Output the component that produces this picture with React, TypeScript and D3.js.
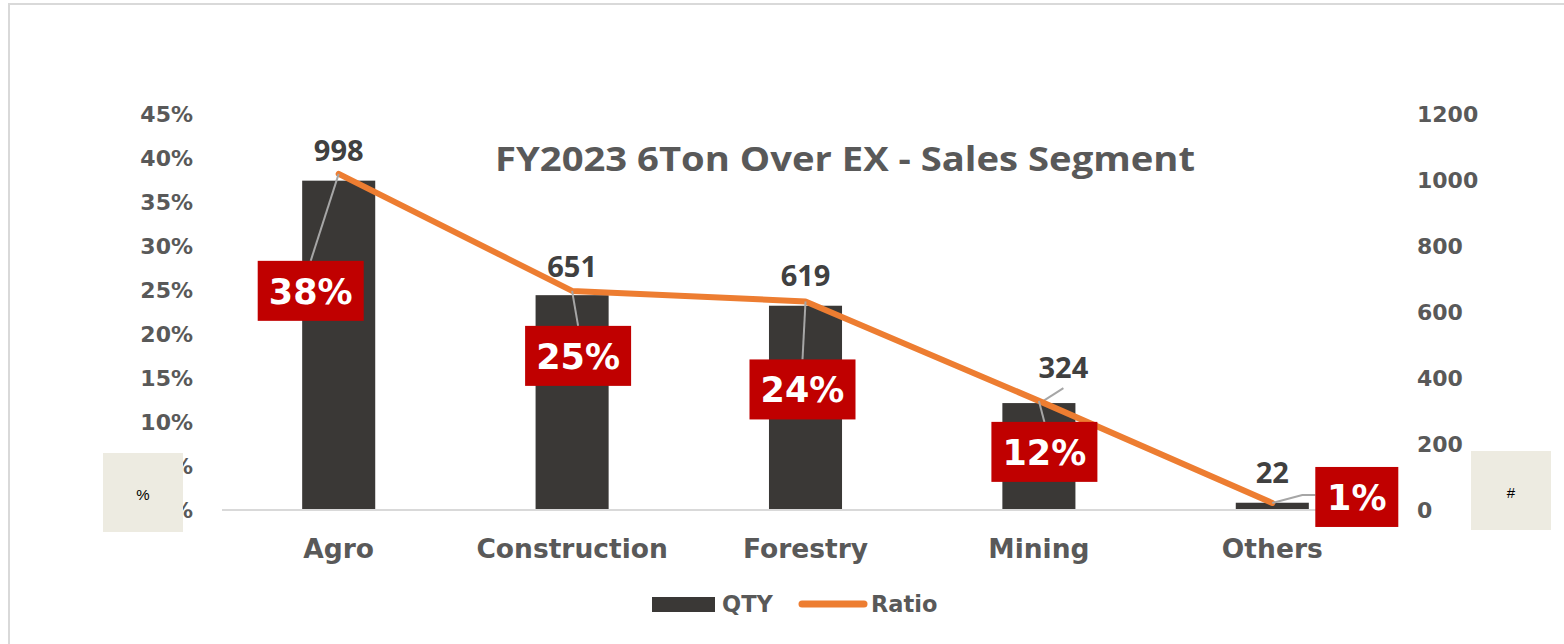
import React from "react";
import * as d3 from "d3";

const categories = ["Agro", "Construction", "Forestry", "Mining", "Others"];
const qty = [998, 651, 619, 324, 22];
const ratio = [0.382, 0.249, 0.237, 0.124, 0.008];
const ratioLabels = ["38%", "25%", "24%", "12%", "1%"];
const leftTicks = [0, 0.05, 0.1, 0.15, 0.2, 0.25, 0.3, 0.35, 0.4, 0.45];
const rightTicks = [0, 200, 400, 600, 800, 1000, 1200];
const title = "FY2023 6Ton Over EX - Sales Segment";

// label placement offsets (style, relative to data point)
const boxOffsets = [
  [-28, 117],
  [6, 65],
  [-3, 88],
  [5.5, 51],
  [84.5, -6],
];
const qtyLabelOffsets = [
  [0, -31],
  [0, -30],
  [0, -31],
  [24.5, -37],
  [0, -31],
];

const W = 1564;
const H = 644;
const AXIS_FONT = "'DejaVu Sans', Verdana, sans-serif";

export default function App() {
  const x = d3
    .scaleBand<string>()
    .domain(categories)
    .range([222, 1389])
    .paddingInner(0.687)
    .paddingOuter(0.3435);
  const yL = d3.scaleLinear().domain([0, 0.45]).range([510, 114]);
  const yR = d3.scaleLinear().domain([0, 1200]).range([510, 114]);
  const bw = x.bandwidth();
  const cx = (c: string) => (x(c) as number) + bw / 2;

  const line = d3
    .line<number>()
    .x((_, i) => cx(categories[i]))
    .y((d) => yL(d));

  const boxH = 60;

  return (
    <svg
      width={W}
      height={H}
      style={{ position: "absolute", left: 0, top: 0, background: "#fff" }}
    >
      <rect x={9} y={4} width={W} height={H} fill="#fff" stroke="#D9D9D9" strokeWidth={2} />

      {/* title */}
      <text
        x={845}
        y={158}
        textAnchor="middle"
        dominantBaseline="central"
        fontFamily="'Open Sans', sans-serif"
        fontWeight={700}
        fontSize={34}
        fill="#595959"
        textLength={700}
        lengthAdjust="spacingAndGlyphs"
      >
        {title}
      </text>

      {/* left axis labels */}
      {leftTicks.map((t) => (
        <text
          key={"l" + t}
          x={193}
          y={yL(t)}
          textAnchor="end"
          dominantBaseline="central"
          fontFamily={AXIS_FONT}
          fontWeight={700}
          fontSize={22}
          fill="#595959"
        >
          {d3.format(".0%")(t)}
        </text>
      ))}

      {/* right axis labels */}
      {rightTicks.map((t) => (
        <text
          key={"r" + t}
          x={1417}
          y={yR(t)}
          textAnchor="start"
          dominantBaseline="central"
          fontFamily={AXIS_FONT}
          fontWeight={700}
          fontSize={22}
          fill="#595959"
        >
          {t}
        </text>
      ))}

      {/* bars */}
      {qty.map((v, i) => (
        <rect
          key={"b" + i}
          x={x(categories[i])}
          y={yR(v)}
          width={bw}
          height={yR(0) - yR(v)}
          fill="#3A3836"
        />
      ))}

      {/* baseline */}
      <line x1={222} x2={1389} y1={yR(0)} y2={yR(0)} stroke="#D9D9D9" strokeWidth={2} />

      {/* category labels */}
      {categories.map((c) => (
        <text
          key={"c" + c}
          x={cx(c)}
          y={548}
          textAnchor="middle"
          dominantBaseline="central"
          fontFamily={AXIS_FONT}
          fontWeight={700}
          fontSize={26.5}
          fill="#595959"
        >
          {c}
        </text>
      ))}

      {/* qty labels */}
      {qty.map((v, i) => {
        const px = cx(categories[i]);
        const py = yR(v);
        const [dx, dy] = qtyLabelOffsets[i];
        return (
          <g key={"q" + i}>
            {dx !== 0 && (
              <line
                x1={px + 1}
                y1={py}
                x2={px + dx}
                y2={py + dy + 22}
                stroke="#A6A6A6"
                strokeWidth={2}
              />
            )}
            <text
              x={px + dx}
              y={py + dy}
              textAnchor="middle"
              dominantBaseline="central"
              fontFamily="'Open Sans', sans-serif"
              fontWeight={700}
              fontSize={29}
              fill="#404040"
            >
              {v}
            </text>
          </g>
        );
      })}

      {/* ratio line */}
      <path
        d={line(ratio) || ""}
        fill="none"
        stroke="#ED7D31"
        strokeWidth={6}
        strokeLinejoin="round"
        strokeLinecap="round"
      />

      {/* ratio labels with leader lines */}
      {ratio.map((v, i) => {
        const px = cx(categories[i]);
        const py = yL(v);
        const [dx, dy] = boxOffsets[i];
        const bcx = px + dx;
        const bcy = py + dy;
        const label = ratioLabels[i];
        const boxW = label.length === 2 ? 83 : 106;
        const bx = bcx - boxW / 2;
        const by = bcy - boxH / 2;
        const toRight = bx > px;
        const leader = toRight
          ? `M${px},${py}L${bx - 13},${bcy - 2}L${bx},${bcy - 2}`
          : `M${px},${py}L${bcx},${by}`;
        return (
          <g key={"r" + i}>
            <path d={leader} fill="none" stroke="#A6A6A6" strokeWidth={2} />
            <rect x={bx} y={by} width={boxW} height={boxH} fill="#C00000" />
            <text
              x={bcx}
              y={bcy + 1}
              textAnchor="middle"
              dominantBaseline="central"
              fontFamily={AXIS_FONT}
              fontWeight={700}
              fontSize={35}
              fill="#ffffff"
            >
              {label}
            </text>
          </g>
        );
      })}

      {/* side boxes */}
      <rect x={103} y={453} width={80} height={79} fill="#EDEBE1" />
      <text
        x={143}
        y={494}
        textAnchor="middle"
        dominantBaseline="central"
        fontFamily="'Liberation Sans', Arial, sans-serif"
        fontSize={15}
        fill="#000"
      >
        %
      </text>
      <rect x={1471} y={451} width={80} height={79} fill="#EDEBE1" />
      <text
        x={1511}
        y={492}
        textAnchor="middle"
        dominantBaseline="central"
        fontFamily="'Liberation Sans', Arial, sans-serif"
        fontSize={15}
        fill="#000"
      >
        #
      </text>

      {/* legend */}
      <rect x={652} y={597} width={63} height={15} fill="#3A3836" />
      <text
        x={722}
        y={604}
        dominantBaseline="central"
        fontFamily={AXIS_FONT}
        fontWeight={700}
        fontSize={22.5}
        fill="#595959"
      >
        QTY
      </text>
      <line
        x1={802}
        x2={864}
        y1={604}
        y2={604}
        stroke="#ED7D31"
        strokeWidth={7}
        strokeLinecap="round"
      />
      <text
        x={871}
        y={604}
        dominantBaseline="central"
        fontFamily={AXIS_FONT}
        fontWeight={700}
        fontSize={22.5}
        fill="#595959"
      >
        Ratio
      </text>
    </svg>
  );
}
